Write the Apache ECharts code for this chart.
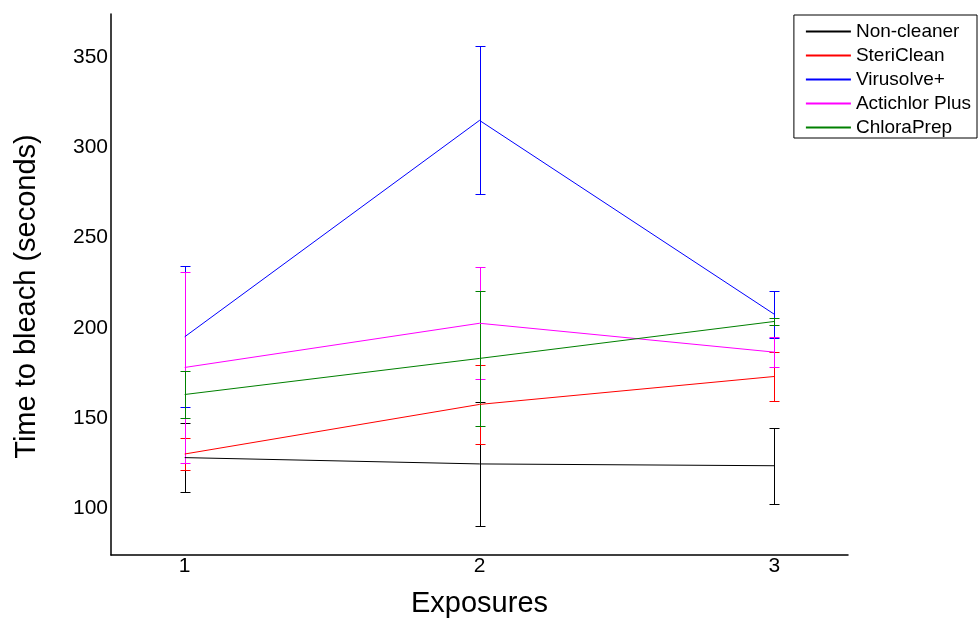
<!DOCTYPE html>
<html>
<head>
<meta charset="utf-8">
<script src="https://cdn.jsdelivr.net/npm/echarts@6/dist/echarts.min.js"></script>
<style>
  html, body { margin: 0; padding: 0; background: #fff; }
  #chart { width: 979px; height: 619px; }
</style>
</head>
<body>
<div id="chart"></div>
<script>
// Data
const exposures = [1, 2, 3];
const seriesNames = ['Non-cleaner', 'SteriClean', 'Virusolve+', 'Actichlor Plus', 'ChloraPrep'];
const seriesColors = ['#000000', '#ff0000', '#0000ff', '#ff00ff', '#008000'];

const nonCleaner = [128, 124.5, 123.5];
const nonCleanerErr = [19, 34.5, 21];
const steriClean = [130, 157.5, 173];
const steriCleanErr = [9, 22, 13.5];
const virusolve = [195, 315, 207.5];
const virusolveErr = [39, 41, 13];
const actichlor = [178, 202.5, 186.5];
const actichlorErr = [53, 31, 8.5];
const chloraPrep = [163, 183, 203.5];
const chloraPrepErr = [13, 37.5, 2];

const yTicks = [100, 150, 200, 250, 300, 350];

const means = [nonCleaner, steriClean, virusolve, actichlor, chloraPrep];
const errs = [nonCleanerErr, steriCleanErr, virusolveErr, actichlorErr, chloraPrepErr];

const chart = echarts.init(document.getElementById('chart'));

// Error bar renderer: vertical line with small caps (snapped to half pixels)
function renderErrorBar(params, api) {
    const x = api.value(0);
    const lo = api.coord([x, api.value(1)]);
    const hi = api.coord([x, api.value(2)]);
    const px = Math.round(lo[0]) + 0.5;
    const yLo = Math.round(lo[1]) + 0.5;
    const yHi = Math.round(hi[1]) + 0.5;
    const half = 5;
    const style = { stroke: api.visual('color'), lineWidth: 1 };
    return {
        type: 'group',
        children: [
            { type: 'line', shape: { x1: px, y1: yLo, x2: px, y2: yHi }, style: style },
            { type: 'line', shape: { x1: px - half, y1: yLo, x2: px + half, y2: yLo }, style: style },
            { type: 'line', shape: { x1: px - half, y1: yHi, x2: px + half, y2: yHi }, style: style }
        ]
    };
}

// Line series first so the legend takes their line icons
const series = [];
seriesNames.forEach((name, i) => {
    series.push({
        name: name,
        type: 'line',
        symbol: 'none',
        color: seriesColors[i],
        lineStyle: { color: seriesColors[i], width: 1 },
        itemStyle: { color: seriesColors[i] },
        data: exposures.map((x, j) => [x, means[i][j]]),
        z: 3
    });
});
seriesNames.forEach((name, i) => {
    series.push({
        name: name,
        type: 'custom',
        renderItem: renderErrorBar,
        color: seriesColors[i],
        itemStyle: { color: seriesColors[i] },
        data: exposures.map((x, j) => [x, means[i][j] - errs[i][j], means[i][j] + errs[i][j]]),
        z: 2,
        silent: true
    });
});

const option = {
    animation: false,
    backgroundColor: '#fff',
    textStyle: { fontFamily: 'Liberation Sans, Arial, sans-serif' },
    grid: { left: 111, top: 14, right: 131, bottom: 64, outerBoundsMode: 'none', containLabel: false },
    legend: {
        data: seriesNames,
        orient: 'vertical',
        right: 2,
        top: 15,
        itemWidth: 45,
        itemHeight: 14,
        itemGap: 5,
        padding: [7, 6, 1, 11],
        borderColor: '#000',
        borderWidth: 1,
        borderRadius: 0,
        itemStyle: { opacity: 0 },
        textStyle: { fontSize: 19, color: '#000', fontFamily: 'Liberation Sans, Arial, sans-serif' }
    },
    xAxis: {
        type: 'value',
        min: 0.75,
        max: 3.25,
        name: 'Exposures',
        nameLocation: 'middle',
        nameGap: 34,
        nameTextStyle: { fontSize: 29, color: '#000' },
        splitLine: { show: false },
        axisTick: { show: false },
        axisLine: { lineStyle: { color: '#000', width: 1.5 } },
        axisLabel: { customValues: exposures, fontSize: 21, color: '#000', margin: 1 }
    },
    yAxis: {
        type: 'value',
        min: 74,
        max: 374,
        name: 'Time to bleach (seconds)',
        nameLocation: 'middle',
        nameGap: 70,
        nameTextStyle: { fontSize: 29, color: '#000', padding: [0, 24, 0, 0] },
        splitLine: { show: false },
        axisTick: { show: false },
        axisLine: { show: true, lineStyle: { color: '#000', width: 1.5 } },
        axisLabel: { customValues: yTicks, fontSize: 21, color: '#000', margin: 3 }
    },
    series: series
};

chart.setOption(option);

window.addEventListener('resize', () => {
    chart?.resize();
});
</script>
</body>
</html>
